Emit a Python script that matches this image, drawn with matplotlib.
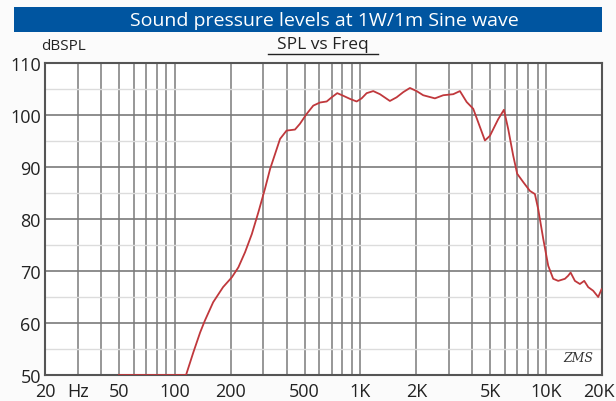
import matplotlib
matplotlib.use('Agg')
import matplotlib.pyplot as plt
import matplotlib.transforms as mtransforms
from matplotlib.patches import Rectangle

# SPL response
freq = [50, 115, 126, 137, 145, 161, 182, 203, 220, 239, 260, 282, 306, 326,
        369, 400, 444, 472, 513, 557, 605, 658, 700, 750, 808, 878, 954, 1015,
        1080, 1172, 1274, 1441, 1566, 1701, 1847, 2007, 2178, 2519, 2792, 3160,
        3434, 3733, 4050, 4308, 4682, 4982, 5521, 5926, 6250, 6648, 6986, 7530,
        8181, 8702, 9067, 9649, 10266, 10920, 11618, 12626, 13153, 13550, 14294,
        15206, 16040, 16856, 17932, 19078, 19900]
spl = [50, 50, 54.4, 58.2, 60.4, 64.0, 66.9, 68.8, 70.7, 73.6, 77.1, 81.3, 85.8, 89.6,
       95.4, 97.0, 97.2, 98.3, 100.2, 101.8, 102.4, 102.6, 103.4, 104.2, 103.7, 103.1, 102.6, 103.2,
       104.2, 104.6, 104.0, 102.7, 103.4, 104.4, 105.2, 104.6, 103.8, 103.2, 103.8, 104.0,
       104.6, 102.5, 101.2, 98.6, 95.1, 96.0, 99.2, 101.0, 97.3, 92.2, 88.7, 87.1,
       85.4, 84.8, 81.9, 76.2, 71.0, 68.5, 68.1, 68.5, 69.1, 69.7, 68.1,
       67.5, 68.1, 66.9, 66.2, 65.0, 66.5]

x_ticks = [20, 30, 50, 100, 200, 500, 1000, 2000, 5000, 10000, 20000]
x_labels = ['20', 'Hz', '50', '100', '200', '500', '1K', '2K', '5K', '10K', '20K']
y_ticks = [50, 60, 70, 80, 90, 100, 110]

grid_freqs = [m * 10 ** d for d in range(1, 5) for m in range(1, 10)
              if 20 <= m * 10 ** d <= 20000]

fig = plt.figure(figsize=(6.16, 4.02), dpi=100)
fig.patch.set_facecolor('#fbfbfb')

# blue title bar
fig.patches.append(Rectangle((14 / 616, 1 - 33 / 402), 588 / 616, 25 / 402,
                             transform=fig.transFigure, facecolor='#0055a0',
                             edgecolor='none'))
fig.text(0.526, 1 - 20.5 / 402, 'Sound pressure levels at 1W/1m Sine wave',
         color='white', fontsize=14, ha='center', va='center',
         family='Open Sans')

ax = fig.add_axes([45 / 616, 1 - 376 / 402, 557 / 616, 312 / 402])
ax.set_facecolor('white')
ax.set_xscale('log')
ax.set_xlim(20, 20000)
ax.set_ylim(50, 110)

for f in grid_freqs:
    ax.axvline(f, color='#858585', lw=1.2, zorder=1)
for y in range(55, 110, 10):
    ax.axhline(y, color='#dcdcdc', lw=1.0, zorder=1)
for y in range(60, 110, 10):
    ax.axhline(y, color='#7a7a7a', lw=1.2, zorder=1)

ax.plot(freq, spl, color='#c0383c', lw=1.3, zorder=3, clip_on=True)

ax.set_xticks(x_ticks)
ax.set_xticklabels(x_labels)
ax.minorticks_off()
ax.set_yticks(y_ticks)
ax.tick_params(length=0, labelsize=13, colors='#222222', pad=3)
ax.tick_params(axis='x', pad=5)
for lab in ax.get_xticklabels() + ax.get_yticklabels():
    lab.set_family('Open Sans')
# keep the last frequency label inside the picture
last = ax.get_xticklabels()[-1]
last.set_transform(last.get_transform() +
                   mtransforms.ScaledTranslation(-3 / 100, 0, fig.dpi_scale_trans))
for s in ax.spines.values():
    s.set_color('#555555')
    s.set_linewidth(1.5)

fig.text(41 / 616, 1 - 47 / 402, 'dBSPL', fontsize=11, color='#222222',
         ha='left', va='center', family='Open Sans')
fig.text(323 / 616, 1 - 45 / 402, 'SPL vs Freq', fontsize=12.5,
         color='#222222', ha='center', va='center', family='Open Sans')
fig.add_artist(plt.Line2D([268 / 616, 378 / 616], [1 - 55 / 402, 1 - 55 / 402],
                          color='#222222', lw=1.0, transform=fig.transFigure))

ax.text(0.985, 0.035, 'ZMS', transform=ax.transAxes, fontsize=9,
        style='italic', ha='right', va='bottom', color='#333333',
        family='DejaVu Serif')

fig.savefig('out.png', dpi=100)
